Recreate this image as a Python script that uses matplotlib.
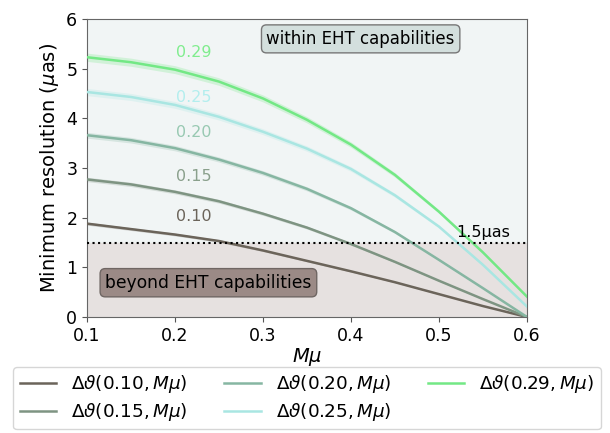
import matplotlib
matplotlib.use("Agg")
import matplotlib.pyplot as plt
import numpy as np

# Boson mass coupling M*mu
m_mu = [0.10, 0.15, 0.20, 0.25, 0.30, 0.35, 0.40, 0.45, 0.50, 0.55, 0.60]

# Minimum angular resolution (micro-arcsec) for each spin value
spins = ["0.10", "0.15", "0.20", "0.25", "0.29"]
res_010 = [1.88, 1.77, 1.66, 1.53, 1.34, 1.13, 0.92, 0.70, 0.46, 0.22, 0.00]
res_015 = [2.77, 2.67, 2.52, 2.33, 2.08, 1.80, 1.47, 1.11, 0.73, 0.36, 0.00]
res_020 = [3.66, 3.56, 3.40, 3.17, 2.90, 2.58, 2.19, 1.71, 1.15, 0.58, 0.00]
res_025 = [4.53, 4.43, 4.27, 4.03, 3.73, 3.39, 2.98, 2.45, 1.82, 1.05, 0.21]
res_029 = [5.23, 5.13, 4.98, 4.74, 4.40, 3.97, 3.47, 2.86, 2.12, 1.30, 0.41]
series = [res_010, res_015, res_020, res_025, res_029]

# Relative uncertainty of each curve (shaded band)
rel_err = [0.016, 0.016, 0.016, 0.016, 0.016]

line_colors = ["#6b645a", "#7e9482", "#86b6a2", "#a9e6e2", "#73e885"]
label_colors = ["#6b645a", "#8aa08c", "#98c9b2", "#b3eeee", "#80ed8e"]
label_y = [2.02, 2.83, 3.72, 4.42, 5.32]

eht_limit = 1.5

fig = plt.figure(figsize=(6.10, 4.33), dpi=100)
ax = fig.add_axes([0.1426, 0.2679, 0.7213, 0.6882])

ax.set_xlim(0.1, 0.6)
ax.set_ylim(0, 6)

# Shaded regions above/below the EHT limit
ax.axhspan(eht_limit, 6, color="#f1f5f5", zorder=0)
ax.axhspan(0, eht_limit, color="#e6e1e0", zorder=0)

x = np.array(m_mu)
for s, vals, c, lc, ly, re in zip(spins, series, line_colors, label_colors,
                                  label_y, rel_err):
    v = np.array(vals)
    ax.fill_between(x, v * (1 - re), v * (1 + re), color=c, alpha=0.25,
                    lw=0, zorder=2)
    ax.plot(x, v, color=c, lw=1.8, zorder=3,
            label=r"$\Delta\vartheta(%s, M\mu)$" % s)
    ax.text(0.2017, ly, s, color=lc, fontsize=11.5, va="center", ha="left",
            zorder=4)

ax.axhline(eht_limit, color="black", ls=":", lw=1.5, zorder=4)
ax.text(0.520, 1.55, "1.5μas", fontsize=11.5, va="bottom", ha="left",
        zorder=5)

ax.text(0.411, 5.6, "within EHT capabilities", fontsize=12, ha="center",
        va="center", zorder=5,
        bbox=dict(boxstyle="round,pad=0.3", fc="#d3dfdd", ec="#777777",
                  lw=1.0))
ax.text(0.238, 0.69, "beyond EHT capabilities", fontsize=12.3, ha="center",
        va="center", zorder=5,
        bbox=dict(boxstyle="round,pad=0.3", fc="#9b8a86", ec="#6f6663",
                  lw=1.0))

ax.set_xticks([0.1, 0.2, 0.3, 0.4, 0.5, 0.6])
ax.set_yticks([0, 1, 2, 3, 4, 5, 6])
ax.tick_params(labelsize=12.5, color="#555555")
for sp in ax.spines.values():
    sp.set_color("#666666")

ax.set_xlabel(r"$M\mu$", fontsize=14, labelpad=1)
ax.set_ylabel(r"Minimum resolution ($\mu$as)", fontsize=14, labelpad=4)

ax.legend(loc="upper center", bbox_to_anchor=(0.5, -0.168), ncol=3,
          fontsize=13.2, frameon=True, edgecolor="#cccccc",
          borderaxespad=0, labelspacing=0.3, borderpad=0.35)

fig.savefig("out.png", dpi=100)
